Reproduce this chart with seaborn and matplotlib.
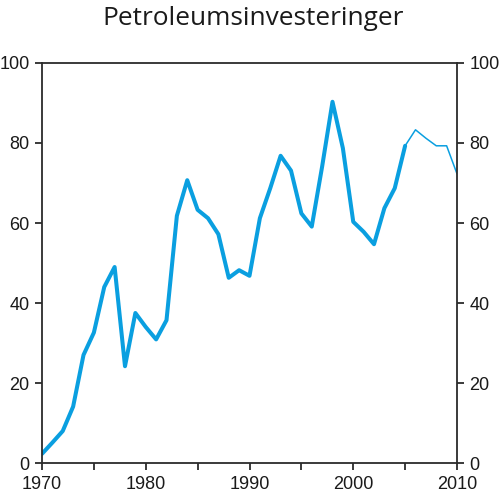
import matplotlib
matplotlib.use("Agg")
import matplotlib.pyplot as plt
import seaborn as sns
import pandas as pd
from matplotlib.ticker import MultipleLocator, FuncFormatter

years_hist = list(range(1970, 2006))
values_hist = [2.3, 5.1, 8.0, 14.1, 27.0, 32.6, 44.0, 49.0, 24.2, 37.5,
               34.0, 30.9, 35.7, 61.8, 70.7, 63.3, 61.2, 57.2, 46.3, 48.2,
               46.8, 61.2, 68.7, 76.8, 73.1, 62.4, 59.1, 74.1, 90.3, 78.7,
               60.3, 57.8, 54.7, 63.7, 68.7, 79.3]
years_proj = [2005, 2006, 2007, 2008, 2009, 2010]
values_proj = [79.3, 83.3, 81.2, 79.3, 79.3, 72.3]

title = "Petroleumsinvesteringer"
line_color = "#0a9fe0"
axis_color = "#2b2b2b"

sns.set_theme(style="white")
plt.rcParams['font.family'] = ['Liberation Sans', 'DejaVu Sans']

fig = plt.figure(figsize=(5.0, 4.96), dpi=100)
ax = fig.add_axes([0.084, 0.0665, 0.83, 0.8065])

df_h = pd.DataFrame({"year": years_hist, "value": values_hist})
df_p = pd.DataFrame({"year": years_proj, "value": values_proj})
sns.lineplot(data=df_h, x="year", y="value", ax=ax, color=line_color, linewidth=2.9)
sns.lineplot(data=df_p, x="year", y="value", ax=ax, color=line_color, linewidth=1.1)

ax.set_xlim(1970, 2010)
ax.set_ylim(0, 100)
ax.set_xlabel("")
ax.set_ylabel("")

ax.xaxis.set_major_locator(MultipleLocator(5))
ax.xaxis.set_major_formatter(FuncFormatter(lambda v, p: f"{int(round(v))}" if int(round(v)) % 10 == 0 else ""))
ax.yaxis.set_major_locator(MultipleLocator(20))

ax.tick_params(axis="both", direction="out", length=5, width=1.3, color=axis_color,
               labelsize=13, labelcolor="#1a1a1a", pad=4)
ax.tick_params(axis="y", left=True, right=True, labelleft=True, labelright=True)
ax.tick_params(axis="x", bottom=True)

for s in ax.spines.values():
    s.set_color(axis_color)
    s.set_linewidth(1.3)
    s.set_visible(True)

fig.text(0.506, 0.962, title, ha="center", va="center", fontsize=18.9,
         family=["Open Sans", "DejaVu Sans"], color="#1a1a1a")

fig.savefig("out.png", dpi=100)
